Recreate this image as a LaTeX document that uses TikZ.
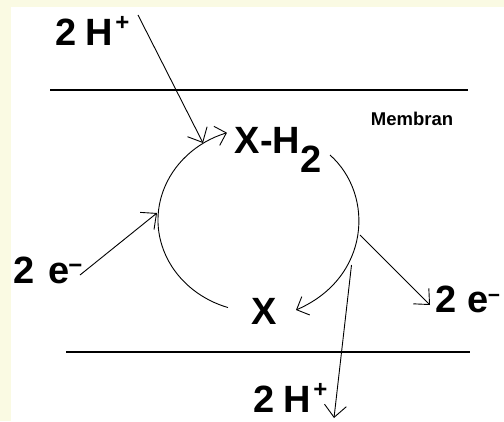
\documentclass[tikz,border=0pt]{standalone}
\usepackage{fontspec}
\setmainfont{Liberation Sans}
\usetikzlibrary{arrows.meta,calc}
\definecolor{bgyellow}{RGB}{250,250,227}
\begin{document}
\begin{tikzpicture}[x=1pt,y=-1pt,
  lbl/.style={inner sep=0pt, anchor=base west, font=\fontsize{38}{38}\selectfont\bfseries},
  small/.style={inner sep=0pt, anchor=base west, font=\fontsize{18.5}{18.5}\selectfont\bfseries},
  arr/.style={line width=0.9pt, -{Straight Barb[length=12pt,width=22pt]}},
  curvearr/.style={line width=0.9pt, -{Straight Barb[length=10pt,width=20pt]}},
  mem/.style={line width=1.3pt}]
\useasboundingbox (0,0) rectangle (504,421);
\fill[bgyellow] (0,0) rectangle (504,421);
\fill[white] (11,7) rectangle (504,421);

% membranes
\coordinate (m1a) at (50,90);
\coordinate (m1b) at (468,90);
\coordinate (m2a) at (66,352);
\coordinate (m2b) at (470,352);
\draw[mem] (m1a) -- (m1b);
\draw[mem] (m2a) -- (m2b);

% labels
\node[lbl] (htop) at (55.5,45) {2\hspace{9pt}H\hspace{2pt}\raisebox{15pt}{\fontsize{24}{24}\selectfont +}};
\node[lbl] (hbot) at (253.5,412) {2\hspace{9pt}H\hspace{2pt}\raisebox{15pt}{\fontsize{24}{24}\selectfont +}};
\node[lbl] (eleft) at (13.5,283) {2\hspace{13.5pt}e\hspace{-1pt}\raisebox{10pt}{\fontsize{24}{24}\selectfont −}};
\node[lbl] (eright) at (435,312) {2\hspace{11pt}e\hspace{-0.5pt}\raisebox{10pt}{\fontsize{21}{21}\selectfont −}};
\node[lbl] (xh2) at (234.5,153) {X-H\raisebox{-19pt}{2}};
\node[lbl] (x) at (251.5,324) {X};
\node[small] (membran) at (370.7,125) {Membran};

% connector end points
\coordinate (c) at (259,220);
\coordinate (ht0) at (138,15);
\coordinate (ht1) at (203,143);
\coordinate (el0) at (80,275);
\coordinate (el1) at (157,213);
\coordinate (er0) at (360,235);
\coordinate (er1) at (430,305);
\coordinate (hb0) at (351.5,265);
\coordinate (hb1) at (334,418);
\coordinate (ra0) at (330,155);
\coordinate (ra1) at (296,310);

% cycle arcs
\draw[curvearr] ([shift={(252.1:101pt and 92pt)}]c) arc[start angle=252.1, end angle=108.5, x radius=101pt, y radius=92pt];
\draw[curvearr] (ra0) .. controls (375,195) and (370,278) .. (ra1);

% straight arrows
\draw[arr] (ht0) -- (ht1);
\draw[arr] (el0) -- (el1);
\draw[arr] (er0) -- (er1);
\draw[arr] (hb0) -- (hb1);
\end{tikzpicture}
\end{document}
